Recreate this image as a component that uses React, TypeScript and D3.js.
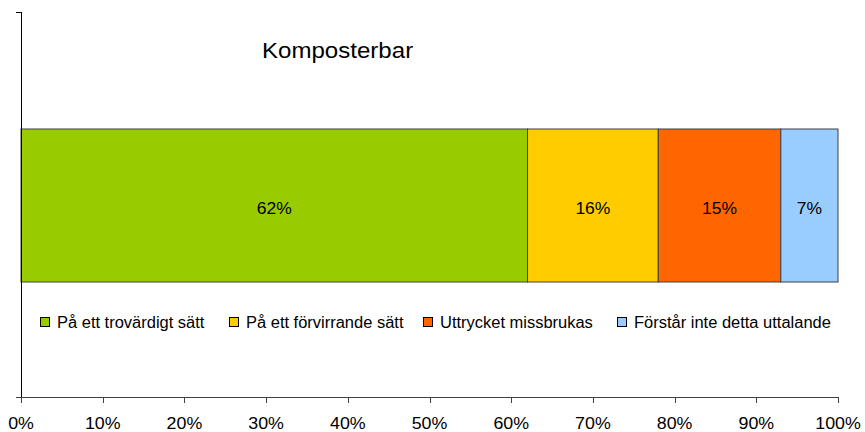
import React from "react";
import * as d3 from "d3";

const title = "Komposterbar";
const categories = [
  "På ett trovärdigt sätt",
  "På ett förvirrande sätt",
  "Uttrycket missbrukas",
  "Förstår inte detta uttalande",
];
const values = [62, 16, 15, 7];
const colors = ["#99CC00", "#FFCC00", "#FF6600", "#99CCFF"];
const xTicks = [0, 10, 20, 30, 40, 50, 60, 70, 80, 90, 100];

const W = 865;
const H = 432;
const FONT = "'Liberation Sans', Arial, sans-serif";

const legendX = [40, 229, 423, 617];

export default function App() {
  const x = d3.scaleLinear().domain([0, 100]).range([21, 838]);
  const y0 = 12;
  const y1 = 397;
  const barTop = 129;
  const barBot = 282;
  let acc = 0;
  const segs = values.map((v, i) => {
    const s = { start: acc, end: acc + v, v, i };
    acc += v;
    return s;
  });

  const stext = (
    tx: number,
    ty: number,
    str: string,
    size: number,
    sx: number,
    anchor: "start" | "middle" | "end",
    key?: string | number
  ) => (
    <text
      key={key}
      transform={`translate(${tx},${ty}) scale(${sx},1)`}
      fontSize={size}
      fontFamily={FONT}
      textAnchor={anchor}
      fill="#000"
    >
      {str}
    </text>
  );

  return (
    <svg
      width={W}
      height={H}
      style={{ position: "absolute", left: 0, top: 0, background: "#fff" }}
    >
      {segs.map((s) => (
        <rect
          key={s.i}
          x={x(s.start)}
          y={barTop}
          width={x(s.end) - x(s.start)}
          height={barBot - barTop}
          fill={colors[s.i]}
          stroke="#404040"
          strokeWidth={1}
        />
      ))}
      {segs.map((s) =>
        stext(x((s.start + s.end) / 2), 214, `${s.v}%`, 16.5, 1.06, "middle", "l" + s.i)
      )}

      <line x1={21.5} x2={21.5} y1={y0} y2={y1 + 5} stroke="#000" strokeWidth={1} />
      <line x1={16} x2={21.5} y1={y0 + 0.5} y2={y0 + 0.5} stroke="#000" strokeWidth={1} />
      <line x1={16} x2={838} y1={y1 + 0.5} y2={y1 + 0.5} stroke="#404040" strokeWidth={1} />
      {xTicks.map((t) => (
        <line
          key={"t" + t}
          x1={Math.round(x(t)) + 0.5}
          x2={Math.round(x(t)) + 0.5}
          y1={y1}
          y2={y1 + 6}
          stroke="#404040"
          strokeWidth={1}
        />
      ))}
      {xTicks.map((t) => stext(x(t), 429, `${t}%`, 16.5, 1.08, "middle", "tl" + t))}

      {stext(262, 58, title, 21.5, 1.12, "start", "title")}

      {categories.map((c, i) => (
        <g key={"lg" + i}>
          <rect
            x={legendX[i] + 0.5}
            y={317.5}
            width={9}
            height={9}
            fill={colors[i]}
            stroke="#000"
            strokeWidth={1}
          />
          {stext(legendX[i] + 17, 328, c, 16, 1.03, "start")}
        </g>
      ))}
    </svg>
  );
}
